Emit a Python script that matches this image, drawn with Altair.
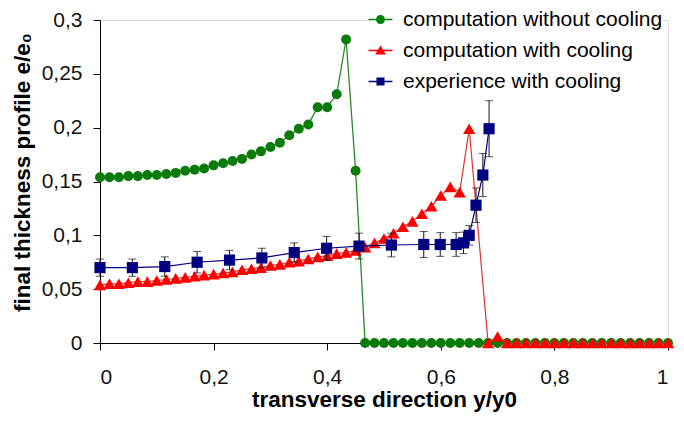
import altair as alt
import pandas as pd

# ---------------- data ----------------
series_names = ["computation without cooling", "computation with cooling", "experience with cooling"]
series_colors = ["#008000", "#ff0000", "#000080"]

green_x = [0.0, 0.0167, 0.0333, 0.05, 0.0667, 0.0833, 0.1, 0.1167, 0.1333, 0.15,
           0.1667, 0.1833, 0.2, 0.2167, 0.2333, 0.25, 0.2667, 0.2833, 0.3, 0.3167,
           0.3333, 0.35, 0.3667, 0.3833, 0.4, 0.4167, 0.4333, 0.45, 0.4667, 0.4833,
           0.5, 0.5167, 0.5333, 0.55, 0.5667, 0.5833, 0.6, 0.6167, 0.6333, 0.65,
           0.6667, 0.6833, 0.7, 0.7167, 0.7333, 0.75, 0.7667, 0.7833, 0.8, 0.8167,
           0.8333, 0.85, 0.8667, 0.8833, 0.9, 0.9167, 0.9333, 0.95, 0.9667, 0.9833, 1.0]
green_y = [0.154, 0.154, 0.154, 0.155, 0.155, 0.156, 0.156, 0.157, 0.158, 0.160,
           0.161, 0.162, 0.165, 0.167, 0.169, 0.171, 0.175, 0.178, 0.182, 0.186,
           0.193, 0.199, 0.203, 0.219, 0.219, 0.231, 0.282, 0.160, 0.0, 0.0,
           0.0, 0.0, 0.0, 0.0, 0.0, 0.0, 0.0, 0.0, 0.0, 0.0,
           0.0, 0.0, 0.0, 0.0, 0.0, 0.0, 0.0, 0.0, 0.0, 0.0,
           0.0, 0.0, 0.0, 0.0, 0.0, 0.0, 0.0, 0.0, 0.0, 0.0, 0.0]

red_x = [0.0, 0.0167, 0.0333, 0.05, 0.0667, 0.0833, 0.1, 0.1167, 0.1333, 0.15,
         0.1667, 0.1833, 0.2, 0.2167, 0.2333, 0.25, 0.2667, 0.2833, 0.3, 0.3167,
         0.3333, 0.35, 0.3667, 0.3833, 0.4, 0.4167, 0.4333, 0.45, 0.4667, 0.4833,
         0.5, 0.5167, 0.5333, 0.55, 0.5667, 0.5833, 0.6, 0.6167, 0.6333, 0.65,
         0.6833, 0.7, 0.7167, 0.7333, 0.75, 0.7667, 0.7833, 0.8, 0.8167,
         0.8333, 0.85, 0.8667, 0.8833, 0.9, 0.9167, 0.9333, 0.95, 0.9667, 0.9833, 1.0]
red_y = [0.054, 0.055, 0.055, 0.056, 0.057, 0.057, 0.058, 0.059, 0.060, 0.061,
         0.062, 0.063, 0.064, 0.065, 0.066, 0.068, 0.069, 0.070, 0.072, 0.073,
         0.075, 0.076, 0.078, 0.080, 0.081, 0.083, 0.084, 0.086, 0.089, 0.093,
         0.097, 0.102, 0.108, 0.113, 0.120, 0.127, 0.137, 0.145, 0.140, 0.199,
         0.0, 0.006, 0.0, 0.0, 0.0, 0.0, 0.0, 0.0, 0.0,
         0.0, 0.0, 0.0, 0.0, 0.0, 0.0, 0.0, 0.0, 0.0, 0.0, 0.0]

blue_x = [0.0, 0.057, 0.114, 0.171, 0.228, 0.285, 0.342, 0.399, 0.456, 0.513,
          0.570, 0.599, 0.627, 0.640, 0.650, 0.662, 0.674, 0.685]
blue_y = [0.070, 0.070, 0.071, 0.075, 0.077, 0.079, 0.084, 0.088, 0.090, 0.091,
          0.0915, 0.0915, 0.0915, 0.093, 0.100, 0.128, 0.156, 0.199]
blue_err = [0.008, 0.008, 0.009, 0.010, 0.009, 0.009, 0.009, 0.011, 0.012, 0.011,
            0.012, 0.011, 0.011, 0.010, 0.009, 0.016, 0.020, 0.026]

x_ticks = [0, 0.2, 0.4, 0.6, 0.8, 1]
y_ticks = [0, 0.05, 0.1, 0.15, 0.2, 0.25, 0.3]

# legend symbols: short line with marker
legend_shapes = [
    "M-1.33,-0.08H1.33V0.08H-1.33Z M0.5,0 A0.5,0.5 0 1,1 -0.5,0 A0.5,0.5 0 1,1 0.5,0Z",
    "M-1.33,-0.08H1.33V0.08H-1.33Z M0,-0.55 L0.6,0.45 L-0.6,0.45Z",
    "M-1.33,-0.08H1.33V0.08H-1.33Z M-0.45,-0.45 H0.45 V0.45 H-0.45Z",
]

FONT = "Liberation Sans"

df_g = pd.DataFrame({"x": green_x, "y": green_y})
df_r = pd.DataFrame({"x": red_x, "y": red_y})
df_b = pd.DataFrame({"x": blue_x, "y": blue_y, "err": blue_err})
df_b["lo"] = df_b["y"] - df_b["err"]
df_b["hi"] = df_b["y"] + df_b["err"]
df_leg = pd.DataFrame({"x": [0.0, 0.0, 0.0], "y": [0.0, 0.0, 0.0], "series": series_names})

xs = alt.Scale(domain=[0, 1], nice=False)
ys = alt.Scale(domain=[0, 0.3], nice=False)

x_axis = alt.Axis(
    values=x_ticks, title="transverse direction y/y0", grid=False,
    labelExpr="replace(format(datum.value, '~g'), '.', ',')",
    labelFont=FONT, labelFontSize=21, labelColor="#111", labelPadding=16,
    tickSize=7, tickColor="black", domainColor="black",
    titleFont=FONT, titleFontSize=22.5, titleFontWeight="bold", titleColor="black",
    titleBaseline="alphabetic", titleY=63,
)
y_axis = alt.Axis(
    values=y_ticks, title="final thickness profile e/e₀", grid=False,
    labelExpr="replace(format(datum.value, '~g'), '.', ',')",
    labelFont=FONT, labelFontSize=21, labelColor="#111", labelPadding=11,
    tickSize=7, tickColor="black", domainColor="black",
    titleFont=FONT, titleFontSize=22.5, titleFontWeight="bold", titleColor="black",
    titleAngle=270, titleBaseline="alphabetic", titleAlign="center", titleX=-71, titleY=152,
)

X = alt.X("x:Q", scale=xs, axis=x_axis)
Y = alt.Y("y:Q", scale=ys, axis=y_axis)
Xn = alt.X("x:Q", scale=xs)
Yn = alt.Y("y:Q", scale=ys)

g_line = alt.Chart(df_g).mark_line(color="#2a8a2a", strokeWidth=1.3).encode(x=X, y=Y)
g_pts = alt.Chart(df_g).mark_point(shape="circle", filled=True, size=100, opacity=1, color="#0a7a0a").encode(x=Xn, y=Yn)

r_line = alt.Chart(df_r).mark_line(color="#e23030", strokeWidth=1.2).encode(x=Xn, y=Yn)
r_pts = alt.Chart(df_r).mark_point(shape="triangle-up", filled=True, size=150, opacity=1, color="#ff0000").encode(x=Xn, y=Yn)

b_line = alt.Chart(df_b).mark_line(color="#000080", strokeWidth=1.2).encode(x=Xn, y=Yn)
b_err = alt.Chart(df_b).mark_rule(color="#111", strokeWidth=1).encode(x=Xn, y=alt.Y("lo:Q", scale=ys), y2="hi:Q")
b_cap_hi = alt.Chart(df_b).mark_tick(color="#111", thickness=1, size=8, orient="horizontal").encode(x=Xn, y=alt.Y("hi:Q", scale=ys))
b_cap_lo = alt.Chart(df_b).mark_tick(color="#111", thickness=1, size=8, orient="horizontal").encode(x=Xn, y=alt.Y("lo:Q", scale=ys))
b_pts = alt.Chart(df_b).mark_point(shape="square", filled=True, size=125, opacity=1, color="#000080").encode(x=Xn, y=Yn)

leg = alt.Chart(df_leg).mark_point(filled=True, size=324, opacity=1).encode(
    x=Xn, y=Yn,
    color=alt.Color("series:N", scale=alt.Scale(domain=series_names, range=series_colors),
                    legend=alt.Legend(orient="none", legendX=270, legendY=-11, title=None,
                                      fillColor="white", padding=0,
                                      labelFont=FONT, labelFontSize=21, labelColor="black",
                                      labelOffset=12, labelLimit=0, symbolSize=324, rowPadding=9,
                                      symbolStrokeWidth=0, symbolOpacity=1)),
    shape=alt.Shape("series:N", scale=alt.Scale(domain=series_names, range=legend_shapes)),
).transform_filter("false")

chart = alt.layer(
    g_line, g_pts, r_line, r_pts, b_line, b_err, b_cap_hi, b_cap_lo, b_pts, leg
).properties(
    width=568, height=323,
    autosize=alt.AutoSizeParams(type="none"),
    padding={"left": 92, "top": 12, "right": 8, "bottom": 70},
).configure_view(stroke="black", strokeWidth=1).configure(background="white")

chart.save("out.html", embed_options={"renderer": "svg", "actions": False})
